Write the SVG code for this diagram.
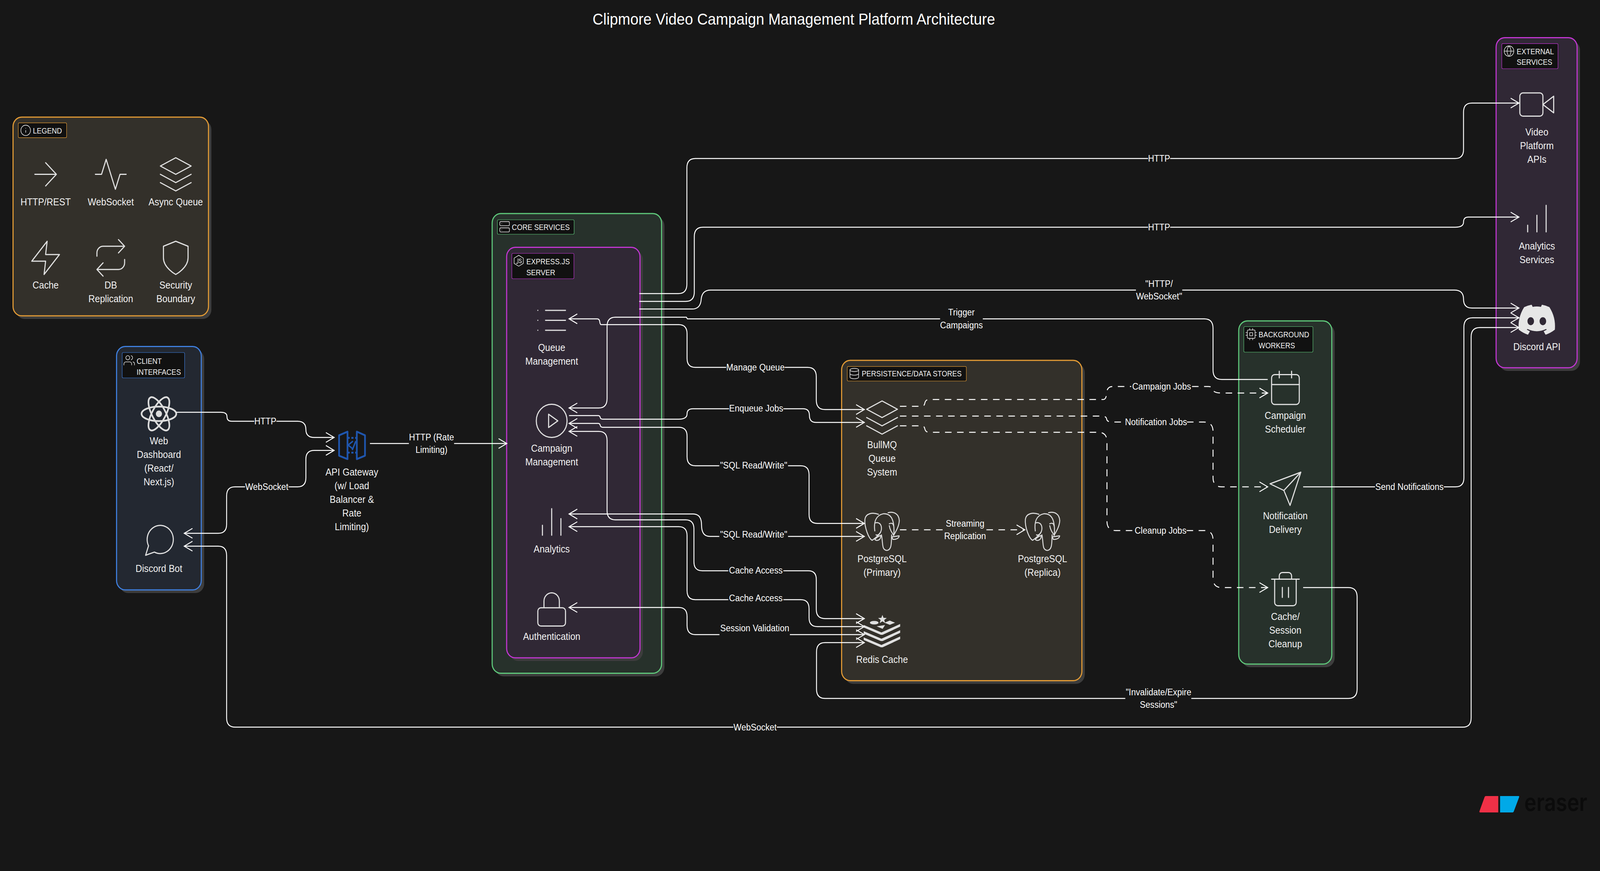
<svg xmlns="http://www.w3.org/2000/svg" width="4420" height="2231" viewBox="0 0 4420 2231" preserveAspectRatio="none" style="display:block;width:100vw;height:100vh">
<style>
text{font-family:"Liberation Sans",Arial,sans-serif;fill:#f2f2f2}
.title{font-size:40.7px;fill:#fff;text-anchor:middle}
.n{font-size:25px;text-anchor:middle}
.tag{font-size:19.5px}
.l{font-size:23.4px;text-anchor:middle;fill:#fff}
.ic{fill:none;stroke:#e0e0e0;stroke-width:.7;stroke-linecap:round;stroke-linejoin:round}
.is{fill:none;stroke:#e0e0e0;stroke-width:1.2;stroke-linecap:round;stroke-linejoin:round}
.sh{fill:#3d3d3d}
.g{stroke-width:3}
.orange{fill:#33302a;stroke:#e39b35}
.blue{fill:#232831;stroke:#3f7fde}
.green{fill:#27312b;stroke:#5fc97b}
.purple{fill:#302835;stroke:#c236d2}
.tb{fill:#111;stroke-width:1.2}
.c{fill:none;stroke:#fff;stroke-width:2.5}
.b{marker-start:url(#ah);marker-end:url(#ah)}
.e{marker-end:url(#ah)}
.d{stroke-dasharray:18 15.3}
.pgs{fill:none;stroke:#dcdcdc;stroke-width:8;stroke-linecap:round;stroke-linejoin:round}
</style>
<defs>
<marker id="ah" markerUnits="userSpaceOnUse" markerWidth="32" markerHeight="32" refX="26" refY="16" orient="auto-start-reverse"><path d="M3.3 3.5L26 16L3.3 28.5" fill="none" stroke="#fff" stroke-width="2.5"/></marker>
<g id="i-arrow"><path d="M5 12h14M12 5l7 7-7 7"/></g>
<g id="i-activity"><path d="M22 12h-4l-3 9L9 3l-3 9H2"/></g>
<g id="i-layers"><path d="M12 2L2 7l10 5 10-5zM2 17l10 5 10-5M2 12l10 5 10-5"/></g>
<g id="i-zap"><path d="M13 2L3 14h9l-1 8 10-12h-9z"/></g>
<g id="i-repeat"><path d="M17 1l4 4-4 4M3 11V9a4 4 0 0 1 4-4h14M7 23l-4-4 4-4M21 13v2a4 4 0 0 1-4 4H3"/></g>
<g id="i-shield"><path d="M12 22s8-4 8-10V5l-8-3-8 3v7c0 6 8 10 8 10z"/></g>
<g id="i-info"><circle cx="12" cy="12" r="10"/><path d="M12 16v-4M12 8h.01"/></g>
<g id="i-users"><path d="M17 21v-2a4 4 0 0 0-4-4H5a4 4 0 0 0-4 4v2M23 21v-2a4 4 0 0 0-3-3.87M16 3.13a4 4 0 0 1 0 7.75"/><circle cx="9" cy="7" r="4"/></g>
<g id="i-server"><rect x="2" y="2" width="20" height="8" rx="2"/><rect x="2" y="14" width="20" height="8" rx="2"/><path d="M6 6h.01M6 18h.01"/></g>
<g id="i-node"><path d="M12 1.5l9.5 5.4v10.2L12 22.5l-9.5-5.4V6.9z"/><path d="M10.5 8v7.5a2 2 0 0 1-3.6 .9M17.5 9.5c-1-1.4-4.5-1.6-4.5.6 0 2.6 4.8 1.4 4.8 4 0 2.4-3.8 2.1-5 .5"/></g>
<g id="i-db"><ellipse cx="12" cy="5" rx="9" ry="3"/><path d="M21 12c0 1.66-4 3-9 3s-9-1.34-9-3M3 5v14c0 1.66 4 3 9 3s9-1.34 9-3V5"/></g>
<g id="i-cpu"><rect x="4" y="4" width="16" height="16" rx="2"/><rect x="9" y="9" width="6" height="6"/><path d="M9 1v3M15 1v3M9 20v3M15 20v3M20 9h3M20 14h3M1 9h3M1 14h3"/></g>
<g id="i-globe"><circle cx="12" cy="12" r="10"/><path d="M2 12h20M12 2a15.3 15.3 0 0 1 4 10 15.3 15.3 0 0 1-4 10 15.3 15.3 0 0 1-4-10 15.3 15.3 0 0 1 4-10z"/></g>
<g id="i-list"><path d="M8 6h13M8 12h13M8 18h13M3 6h.01M3 12h.01M3 18h.01"/></g>
<g id="i-play"><circle cx="12" cy="12" r="10"/><path d="M10 8l6 4-6 4z"/></g>
<g id="i-bar2"><path d="M18 20V10M12 20V4M6 20v-6"/></g>
<g id="i-bar"><path d="M12 20V10M18 20V4M6 20v-4"/></g>
<g id="i-lock"><rect x="3" y="11" width="18" height="11" rx="2"/><path d="M7 11V7a5 5 0 0 1 10 0v4"/></g>
<g id="i-cal"><rect x="3" y="4" width="18" height="18" rx="2"/><path d="M16 2v4M8 2v4M3 10h18"/></g>
<g id="i-send"><path d="M22 2L11 13M22 2l-7 20-4-9-9-4z"/></g>
<g id="i-trash"><path d="M3 6h18M19 6v14a2 2 0 0 1-2 2H7a2 2 0 0 1-2-2V6m3 0V4a2 2 0 0 1 2-2h4a2 2 0 0 1 2 2v2M10 11v6M14 11v6"/></g>
<g id="i-video"><path d="M23 7l-7 5 7 5z"/><rect x="1" y="5" width="15" height="14" rx="2"/></g>
<g id="i-msg"><path d="M21 11.5a8.38 8.38 0 0 1-.9 3.8 8.5 8.5 0 0 1-7.6 4.7 8.38 8.38 0 0 1-3.8-.9L3 21l1.9-5.7a8.38 8.38 0 0 1-.9-3.8 8.5 8.5 0 0 1 4.7-7.6 8.38 8.38 0 0 1 3.8-.9h.5a8.48 8.48 0 0 1 8 8v.5z"/></g>
<g id="i-pg" class="pgs"><path d="M530 1012C480 995 425 1005 418 1050C412 1110 450 1200 478 1212C495 1200 530 1180 548 1150"/><path d="M500 1140C490 1070 510 1020 570 1008C640 1005 665 1060 658 1170"/><path d="M555 1170C570 1240 555 1285 600 1290C645 1285 635 1220 640 1170"/><path d="M610 1000C660 988 700 1010 703 1060C700 1110 670 1150 655 1175"/><path d="M505 1078C530 1070 555 1085 555 1120C555 1150 530 1180 510 1170"/><path d="M620 1085C640 1075 655 1085 655 1100M620 1100C625 1130 640 1150 655 1170"/><path d="M500 1205C520 1185 535 1178 550 1175C550 1215 510 1220 500 1205zM640 1185C665 1185 685 1178 702 1178C700 1195 680 1205 650 1205z"/></g>
</defs>
<rect width="4420" height="2231" fill="#171717"/>
<text class="title" x="2193" y="63">Clipmore Video Campaign Management Platform Architecture</text>

<g id="group-legend">
<rect class="sh" x="44" y="308" width="540" height="509" rx="24"/>
<rect class="g orange" x="36" y="300" width="540" height="509" rx="24"/>
<rect class="tb" stroke="#e39b35" x="50.5" y="314.7" width="133.5" height="38" rx="3"/>
<use href="#i-info" class="is" transform="translate(55 318) scale(1.33)"/>
<text class="tag" x="91" y="342">LEGEND</text>
</g>
<g id="legend-http"><use href="#i-arrow" class="ic" transform="translate(75 395.5) scale(4.25)"/><text class="n" x="126" y="526">HTTP/REST</text></g>
<g id="legend-ws"><use href="#i-activity" class="ic" transform="translate(255 395.5) scale(4.25)"/><text class="n" x="306" y="526">WebSocket</text></g>
<g id="legend-queue"><use href="#i-layers" class="ic" transform="translate(434.5 395.5) scale(4.25)"/><text class="n" x="485.5" y="526">Async Queue</text></g>
<g id="legend-cache"><use href="#i-zap" class="ic" transform="translate(75 609.5) scale(4.25)"/><text class="n" x="126" y="739">Cache</text></g>
<g id="legend-repl"><use href="#i-repeat" class="ic" transform="translate(255 609.5) scale(4.25)"/><text class="n" x="306" y="739">DB<tspan x="306" dy="35">Replication</tspan></text></g>
<g id="legend-sec"><use href="#i-shield" class="ic" transform="translate(434.5 609.5) scale(4.25)"/><text class="n" x="485.5" y="739">Security<tspan x="485.5" dy="35">Boundary</tspan></text></g>

<g id="group-client">
<rect class="sh" x="330" y="895.6" width="234" height="623.4" rx="24"/>
<rect class="g blue" x="322" y="887.6" width="234" height="623.4" rx="24"/>
<rect class="tb" stroke="#3f7fde" x="337.5" y="903" width="172.5" height="65" rx="3"/>
<use href="#i-users" class="is" transform="translate(341 907) scale(1.33)"/>
<text class="tag" x="377.5" y="932">CLIENT<tspan x="377.5" dy="28">INTERFACES</tspan></text>
</g>
<g id="web-dashboard">
<g fill="none" stroke="#dcdcdc" stroke-width="4.5"><ellipse cx="439" cy="1060" rx="48" ry="18.5"/><ellipse cx="439" cy="1060" rx="48" ry="18.5" transform="rotate(60 439 1060)"/><ellipse cx="439" cy="1060" rx="48" ry="18.5" transform="rotate(120 439 1060)"/></g><circle cx="439" cy="1060" r="8.5" fill="#dcdcdc"/>
<text class="n" x="439" y="1138">Web<tspan x="439" dy="35">Dashboard</tspan><tspan x="439" dy="35">(React/</tspan><tspan x="439" dy="35">Next.js)</tspan></text>
</g>
<g id="discord-bot"><use href="#i-msg" class="ic" transform="translate(389.5 1333) scale(4.25)"/><text class="n" x="439" y="1465.5">Discord Bot</text></g>

<g id="api-gateway">
<g fill="none" stroke="#1f56ae" stroke-width="4.7" stroke-linejoin="round"><path d="M936.7 1115L960 1105.7V1176L936.7 1167.3zM985.7 1105.7L1008.3 1115V1167.3L985.7 1176z"/><path d="M960 1121.7H986M960 1159.3H986" stroke-dasharray="6 4.5"/><path d="M975 1130L961.7 1140L975 1150M983 1130L973 1153" stroke-width="4"/></g>
<text class="n" x="972" y="1218.4">API Gateway<tspan x="972" dy="35">(w/ Load</tspan><tspan x="972" dy="35">Balancer &amp;</tspan><tspan x="972" dy="35">Rate</tspan><tspan x="972" dy="35">Limiting)</tspan></text>
</g>

<g id="group-core">
<rect class="sh" x="1367.6" y="555" width="468" height="1177.5" rx="24"/>
<rect class="g green" x="1359.6" y="547" width="468" height="1177.5" rx="24"/>
<rect class="tb" stroke="#5fc97b" x="1374" y="563" width="212" height="37" rx="3"/>
<use href="#i-server" class="is" transform="translate(1378 565) scale(1.33)"/>
<text class="tag" x="1414" y="589">CORE SERVICES</text>
</g>
<g id="group-express">
<rect class="sh" x="1407.6" y="641.5" width="368.4" height="1051.5" rx="24"/>
<rect class="g purple" x="1399.6" y="633.5" width="368.4" height="1051.5" rx="24"/>
<rect class="tb" stroke="#c236d2" x="1414" y="649" width="171.5" height="65" rx="3"/>
<use href="#i-node" class="is" transform="translate(1417 652) scale(1.33)"/>
<text class="tag" x="1454" y="677">EXPRESS.JS<tspan x="1454" dy="28">SERVER</tspan></text>
</g>
<g id="queue-mgmt"><use href="#i-list" class="ic" transform="translate(1473 769.5) scale(4.25)"/><text class="n" x="1524" y="899">Queue<tspan x="1524" dy="35">Management</tspan></text></g>
<g id="campaign-mgmt"><use href="#i-play" class="ic" transform="translate(1473 1027) scale(4.25)"/><text class="n" x="1524" y="1157.4">Campaign<tspan x="1524" dy="35">Management</tspan></text></g>
<g id="analytics"><use href="#i-bar2" class="ic" transform="translate(1473 1286) scale(4.25)"/><text class="n" x="1524" y="1415">Analytics</text></g>
<g id="authentication"><use href="#i-lock" class="ic" transform="translate(1473 1510) scale(4.25)"/><text class="n" x="1524" y="1639">Authentication</text></g>

<g id="group-persistence">
<rect class="sh" x="2333" y="931" width="663.7" height="820.5" rx="24"/>
<rect class="g orange" x="2325" y="923" width="663.7" height="820.5" rx="24"/>
<rect class="tb" stroke="#e39b35" x="2340.5" y="938.6" width="329" height="37.4" rx="3"/>
<use href="#i-db" class="is" transform="translate(2344 941) scale(1.33)"/>
<text class="tag" x="2380.5" y="964.5">PERSISTENCE/DATA STORES</text>
</g>
<g id="bullmq"><use href="#i-layers" class="ic" transform="translate(2385.7 1018.5) scale(4.25)"/><text class="n" x="2436.7" y="1147.7">BullMQ<tspan x="2436.7" dy="35">Queue</tspan><tspan x="2436.7" dy="35">System</tspan></text></g>
<g id="pg-primary"><use href="#i-pg" transform="translate(2250 980) scale(.3333)"/><text class="n" x="2436.7" y="1440">PostgreSQL<tspan x="2436.7" dy="35">(Primary)</tspan></text></g>
<g id="pg-replica"><use href="#i-pg" transform="translate(2693.3 980) scale(.3333)"/><text class="n" x="2880" y="1440">PostgreSQL<tspan x="2880" dy="35">(Replica)</tspan></text></g>
<g id="redis">
<g fill="#e0e0e0"><path d="M2437.7 1575l3 7.5 9 .5-7 5 2.5 8-7.5-4.5-7.5 4.5 2.5-8-7-5 9-.5z"/><ellipse cx="2415" cy="1595" rx="12" ry="4.5"/><path d="M2443.5 1595L2458 1589.5L2472.5 1595L2458 1600.5zM2421.7 1604.3L2445 1601L2438.3 1610.7z"/>
<path id="rband" d="M2386 1600.7L2435 1620L2486.7 1598.3V1605L2438.3 1626H2433.3L2386 1607.3z"/><use href="#rband" y="16"/><use href="#rband" y="32"/></g>
<text class="n" x="2436.6" y="1698">Redis Cache</text>
</g>

<g id="group-workers">
<rect class="sh" x="3430" y="830" width="257" height="879" rx="24"/>
<rect class="g green" x="3422" y="822" width="257" height="879" rx="24"/>
<rect class="tb" stroke="#5fc97b" x="3436" y="836.5" width="191" height="65.5" rx="3"/>
<use href="#i-cpu" class="is" transform="translate(3440.4 840) scale(1.33)"/>
<text class="tag" x="3477" y="864.5">BACKGROUND<tspan x="3477" dy="28">WORKERS</tspan></text>
</g>
<g id="scheduler"><use href="#i-cal" class="ic" transform="translate(3500 942.5) scale(4.25)"/><text class="n" x="3550.7" y="1072.7">Campaign<tspan x="3550.7" dy="35">Scheduler</tspan></text></g>
<g id="notification"><use href="#i-send" class="ic" transform="translate(3500 1201) scale(4.25)"/><text class="n" x="3550.7" y="1330">Notification<tspan x="3550.7" dy="35">Delivery</tspan></text></g>
<g id="cleanup"><use href="#i-trash" class="ic" transform="translate(3500 1458) scale(4.25)"/><text class="n" x="3550.7" y="1588">Cache/<tspan x="3550.7" dy="35">Session</tspan><tspan x="3550.7" dy="35">Cleanup</tspan></text></g>

<g id="group-external">
<rect class="sh" x="4141" y="104.4" width="223.7" height="845.6" rx="24"/>
<rect class="g purple" x="4133" y="96.4" width="223.7" height="845.6" rx="24"/>
<rect class="tb" stroke="#c236d2" x="4148.7" y="111.6" width="155.3" height="64.4" rx="3"/>
<use href="#i-globe" class="is" transform="translate(4152.7 115) scale(1.33)"/>
<text class="tag" x="4190" y="139">EXTERNAL<tspan x="4190" dy="27.5">SERVICES</tspan></text>
</g>
<g id="video-apis"><use href="#i-video" class="ic" transform="translate(4194.3 216.7) scale(4.25)"/><text class="n" x="4245.7" y="347">Video<tspan x="4245.7" dy="35">Platform</tspan><tspan x="4245.7" dy="35">APIs</tspan></text></g>
<g id="analytics-services"><use href="#i-bar" class="ic" transform="translate(4194.7 509) scale(4.25)"/><text class="n" x="4245.7" y="639">Analytics<tspan x="4245.7" dy="35">Services</tspan></text></g>
<g id="discord-api"><path transform="translate(4195 768.5) scale(4.2)" fill="#e6e6e6" d="M20.317 4.3698a19.7913 19.7913 0 00-4.8851-1.5152.0741.0741 0 00-.0785.0371c-.211.3753-.4447.8648-.6083 1.2495-1.8447-.2762-3.68-.2762-5.4868 0-.1636-.3933-.4058-.8742-.6177-1.2495a.077.077 0 00-.0785-.037 19.7363 19.7363 0 00-4.8852 1.515.0699.0699 0 00-.0321.0277C.5334 9.0458-.319 13.5799.0992 18.0578a.0824.0824 0 00.0312.0561c2.0528 1.5076 4.0413 2.4228 5.9929 3.0294a.0777.0777 0 00.0842-.0276c.4616-.6304.8731-1.2952 1.226-1.9942a.076.076 0 00-.0416-.1057c-.6528-.2476-1.2743-.5495-1.8722-.8923a.077.077 0 01-.0076-.1277c.1258-.0943.2517-.1923.3718-.2914a.0743.0743 0 01.0776-.0105c3.9278 1.7933 8.18 1.7933 12.0614 0a.0739.0739 0 01.0785.0095c.1202.099.246.1981.3728.2924a.077.077 0 01-.0066.1276 12.2986 12.2986 0 01-1.873.8914.0766.0766 0 00-.0407.1067c.3604.698.7719 1.3628 1.225 1.9932a.076.076 0 00.0842.0286c1.961-.6067 3.9495-1.5219 6.0023-3.0294a.077.077 0 00.0313-.0552c.5004-5.177-.8382-9.6739-3.5485-13.6604a.061.061 0 00-.0312-.0286zM8.02 15.3312c-1.1825 0-2.1569-1.0857-2.1569-2.419 0-1.3332.9555-2.4189 2.157-2.4189 1.2108 0 2.1757 1.0952 2.1568 2.419 0 1.3332-.9555 2.4189-2.1569 2.4189zm7.9748 0c-1.1825 0-2.1569-1.0857-2.1569-2.419 0-1.3332.9554-2.4189 2.1569-2.4189 1.2108 0 2.1757 1.0952 2.1568 2.419 0 1.3332-.946 2.4189-2.1568 2.4189Z"/><text class="n" x="4245.7" y="897">Discord API</text></g>

<g id="connectors">
<path class="c e" d="M487.5 1056H610Q627 1056 627 1067Q627 1079 640 1079H702.5M763.5 1079H822Q845 1079 845 1100Q845 1120.5 868 1120.5H923"/>
<path class="c b" d="M923 1153.7H868Q845 1153.7 845 1176V1224Q845 1247 822 1247H797M677 1247H649Q626 1247 626 1270V1343Q626 1366 603 1366H509"/>
<path class="c e" d="M1022 1136H1129.5M1254.5 1136H1400"/>
<path class="c e" d="M1766 752H1874Q1897.5 752 1897.5 728V430Q1897.5 406 1921 406H3171.5M3232.5 406H4020Q4043 406 4043 383V287Q4043 264 4066 264H4196"/>
<path class="c e" d="M1766 772H1894Q1918 772 1918 748V606Q1918 582 1942 582H3171.5M3232.5 582H4020Q4043 582 4043 569Q4043 556 4056 556H4196"/>
<path class="c e" d="M1766 791.6H1912Q1935 791.6 1937 767Q1939 743 1963 743H3138M3266 743H4018Q4043 743 4043 766Q4043 789 4066 789H4196"/>
<path class="c e" d="M3502 972H3375Q3351 972 3351 948V841Q3351 816.7 3327 816.7H2715M2597 816.7H1899L1896 812.5H1700Q1677 812.5 1677 836V1021Q1677 1045 1654 1045H1572"/>
<path class="c b" d="M2387.7 1049H2279Q2255 1049 2255 1025V965Q2255 941 2231 941H2168M2006 941H1921Q1898 941 1898 918V855Q1898 831.6 1875 831.6H1661Q1658 831.6 1657 825Q1656 816.7 1650 816.7H1572"/>
<path class="c e" d="M1572 1064.6H1652Q1657 1064.6 1658 1069Q1659 1073.7 1665 1073.7H1875Q1898 1073.7 1898 1060Q1898 1047 1914 1047H2014M2164 1047H2219Q2236 1047 2236 1064Q2236 1082 2254 1082H2387.7"/>
<path class="c b" d="M1572 1084.5H1652Q1657 1084.5 1658 1089Q1659 1094.4 1665 1094.4H1875Q1898 1094.4 1898 1117V1170Q1898 1193 1921 1193H1987M2177 1193H2212Q2235 1193 2235 1216V1318Q2235 1340.7 2258 1340.7H2387.7"/>
<path class="c b" d="M1572 1105H1654Q1677 1105 1677 1128V1308Q1677 1331.5 1700 1331.5H1894Q1917 1331.5 1917 1355V1439Q1917 1462 1940 1462H2012M2164 1462H2233Q2255 1462 2255 1484V1561Q2255 1584.4 2279 1584.4H2387.7"/>
<path class="c b" d="M1572 1316.6H1915Q1938 1316.6 1938 1345Q1938 1374 1961 1374H1987M2177 1374H2387.7"/>
<path class="c b" d="M1572 1349H1875Q1898 1349 1898 1372V1513Q1898 1536 1921 1536H2012M2164 1536H2212Q2235 1536 2235 1559V1582Q2235 1605 2258 1605H2387.7"/>
<path class="c b" d="M1572 1556H1875Q1898 1556 1898 1579V1602Q1898 1625.5 1921 1625.5H1987.5M2182 1625.5H2387.7"/>
<path class="c e" d="M3600 1505H3725Q3749 1505 3749 1529V1765Q3749 1789 3725 1789H3291M3108.6 1789H2279Q2255.6 1789 2255.6 1765V1670Q2255.6 1646 2279 1646H2387.7"/>
<path class="c b" d="M4196 839H4088Q4064 839 4064 863V1839Q4064 1862.6 4041 1862.6H2146M2026 1862.6H650Q626 1862.6 626 1839V1423Q626 1399 603 1399H509"/>
<path class="c e" d="M3600 1247H3798.6M3988.6 1247H4021Q4044 1247 4044 1224V838Q4044 814 4068 814H4196"/>
<path class="c d e" d="M2486 1040.7H2548Q2553 1040.7 2555 1032Q2557 1023.3 2567 1023.3H3048Q3056 1023.3 3057 1007Q3058 990 3074 990H3125M3293 990H3338Q3350 990 3351 998Q3352 1006.7 3375 1006.7H3502"/>
<path class="c d e" d="M2486 1065.7H3043Q3056 1065.7 3057 1073Q3058 1081 3072 1081H3107M3279 1081H3325Q3351 1081 3351 1105V1223Q3351 1247 3375 1247H3502"/>
<path class="c d e" d="M2486 1090.7H2548Q2553 1090.7 2555 1099Q2557 1107.3 2567 1107.3H3034Q3058 1107.3 3058 1131V1335Q3058 1359 3082 1359H3134M3278 1359H3327Q3351 1359 3351 1383V1481Q3351 1505 3375 1505H3502"/>
<path class="c d e" d="M2486 1357H2604M2725 1357H2831"/>
<g id="connector-labels">
<text class="l" x="733" y="1087">HTTP</text>
<text class="l" x="737" y="1255">WebSocket</text>
<text class="l" x="1192" y="1128">HTTP (Rate<tspan x="1192" dy="32.5">Limiting)</tspan></text>
<text class="l" x="3202" y="414">HTTP</text>
<text class="l" x="3202" y="590">HTTP</text>
<text class="l" x="3202" y="735">"HTTP/<tspan x="3202" dy="32.5">WebSocket"</tspan></text>
<text class="l" x="2656" y="808.5">Trigger<tspan x="2656" dy="32.5">Campaigns</tspan></text>
<text class="l" x="2087" y="949">Manage Queue</text>
<text class="l" x="2089" y="1054">Enqueue Jobs</text>
<text class="l" x="2082" y="1200">"SQL Read/Write"</text>
<text class="l" x="2082" y="1377">"SQL Read/Write"</text>
<text class="l" x="2088" y="1469">Cache Access</text>
<text class="l" x="2088" y="1540">Cache Access</text>
<text class="l" x="2085" y="1617">Session Validation</text>
<text class="l" x="2666" y="1348.7">Streaming<tspan x="2666" dy="32.5">Replication</tspan></text>
<text class="l" x="3209" y="998">Campaign Jobs</text>
<text class="l" x="3193.5" y="1089">Notification Jobs</text>
<text class="l" x="3206" y="1367">Cleanup Jobs</text>
<text class="l" x="3893.6" y="1255">Send Notifications</text>
<text class="l" x="3200.5" y="1781">"Invalidate/Expire<tspan x="3200.5" dy="32.5">Sessions"</tspan></text>
<text class="l" x="2086" y="1870.6">WebSocket</text>
</g>
</g>

<g id="watermark">
<path d="M4105 2039H4139V2081H4089Q4086 2081 4087 2078L4101 2042Q4102 2039 4105 2039z" fill="#f03046"/>
<path d="M4144 2039H4195Q4197.5 2039 4196.5 2042L4182 2078Q4181 2081 4178 2081H4144z" fill="#00a9e8"/>
<text x="4211" y="2077" textLength="174" lengthAdjust="spacingAndGlyphs" style="font-family:Inter,'Liberation Sans',sans-serif;font-size:62px;font-weight:600;fill:#0b0b0b">eraser</text>
</g>
</svg>
